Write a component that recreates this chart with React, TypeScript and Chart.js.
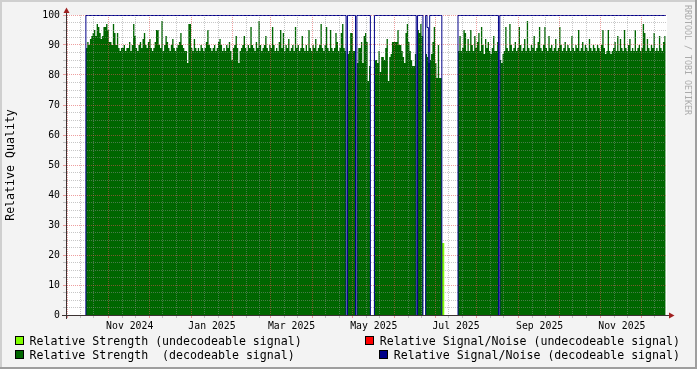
import React, { useEffect, useRef } from "react";
import { Chart, registerables } from "chart.js";

Chart.register(...registerables);

// ---------------- data ----------------
const axisStart = "2024-10-01";
const axisDays = 445; // axis runs to 2025-12-20

const xLabelMonths = ["2024-11", "2025-01", "2025-03", "2025-05", "2025-07", "2025-09", "2025-11"];
const xLabels = ["Nov 2024", "Jan 2025", "Mar 2025", "May 2025", "Jul 2025", "Sep 2025", "Nov 2025"];
const yLabels = [0, 10, 20, 30, 40, 50, 60, 70, 80, 90, 100];
const yMinorStep = 2.5;

// first day of each uninterrupted run of decodeable data
const segmentStarts = ["2024-10-15", "2025-04-27", "2025-05-04", "2025-05-17", "2025-06-18", "2025-06-24", "2025-07-18", "2025-08-18"];

// Relative Strength (decodeable signal), one value per day
const strengthA = [
  89, 91, 90, 92, 93, 94, 95, 93, 97, 96,
  94, 92, 93, 96, 96, 97, 95, 91, 91, 90,
  97, 94,
  90, 94, 89, 88, 89, 89, 90, 88, 89, 89,
  91, 88, 90, 97, 93, 89, 88, 90, 91, 89,
  92, 94, 90, 89, 91, 92, 89, 88, 89, 91,
  95, 95, 90, 89, 98, 88, 90, 93, 91, 89,
  88, 90, 92, 89, 88, 89, 90, 91, 94, 90,
  89, 88, 88, 84, 97, 97, 89, 88, 92, 89,
  88, 89, 88, 90, 89, 88, 89, 91, 95, 90,
  89, 88, 89, 90, 88, 89, 91, 92, 90, 88,
  89, 88, 90, 89, 91, 88, 85, 89, 90, 93,
  89, 84,
  88, 89, 90, 93, 89, 88, 90, 89, 96, 90,
  89, 88, 91, 89, 98, 90, 88, 89, 90, 93,
  89, 88, 90, 89, 96, 90, 88, 89, 88, 91,
  95, 89, 94, 88, 90, 89, 92, 88, 89, 90,
  88, 96, 89, 90, 88, 89, 93, 89, 88, 90,
  88, 95, 89, 88, 90, 89, 92, 88, 89, 90,
  97, 89, 88, 90, 96, 89, 88,
  95, 89, 88, 89, 94, 91, 88, 89, 94, 97, 89, 88,
];
const strengthB = [87, 88, 94, 94, 88, 88];
const strengthC = [84, 89, 89, 91, 84, 93, 94, 91, 78, 83];
const strengthD = [
  85, 85, 84, 88, 81, 86, 86, 85, 89, 92,
  78, 86, 87, 91, 91, 91, 91, 95, 90, 90,
  88, 86, 84, 94, 97, 91, 88, 85, 83, 83,
  87,
];
const strengthE = [95, 94, 97, 93];
const strengthF = [87, 86, 84, 85, 87, 91, 96, 84, 79, 90, 79, 79];
const strengthG = [
  88, 93, 88, 89, 95, 94, 88, 92, 88, 95,
  90, 88, 93, 89, 91, 94, 88, 96, 90, 87,
  92, 89, 91, 88, 87, 89, 93, 88, 88, 91,
];
const strengthH = [
  85, 84, 87, 88, 96, 89, 88, 97, 90, 88,
  89, 91, 88, 89, 96, 90, 88, 89, 92, 88,
  98, 89, 88, 90, 89, 93, 88, 89, 91, 96,
  89, 88, 90, 96, 89, 88, 93, 89, 90, 88,
  89, 92, 88, 89, 96, 90, 88, 89, 91, 88,
  90, 89, 88, 93, 89, 88, 90, 89, 95, 88,
  89, 91, 88, 90, 89, 88, 92, 89, 88, 90,
  89, 88, 90, 89, 88, 90, 95, 89, 87, 88,
  95, 88, 87, 88, 89, 91, 88, 93, 88, 92,
  89, 88, 95, 89, 88, 90, 92, 88, 89, 88,
  95, 88, 89, 90, 88, 89, 97, 94, 88, 92,
  89, 88, 90, 89, 94, 88, 89, 88, 93, 89,
  88, 91, 93,
];

// Relative Signal/Noise (decodeable signal), one value per day
const signalNoiseA = [
  100, 100, 100, 100, 100, 100, 100, 100, 100, 100, 100, 100, 100, 100, 100, 100, 100, 100, 100, 100,
  100, 100, 100, 100, 100, 100, 100, 100, 100, 100, 100, 100, 100, 100, 100, 100, 100, 100, 100, 100,
  100, 100, 100, 100, 100, 100, 100, 100, 100, 100, 100, 100, 100, 100, 100, 100, 100, 100, 100, 100,
  100, 100, 100, 100, 100, 100, 100, 100, 100, 100, 100, 100, 100, 100, 100, 100, 100, 100, 100, 100,
  100, 100, 100, 100, 100, 100, 100, 100, 100, 100, 100, 100, 100, 100, 100, 100, 100, 100, 100, 100,
  100, 100, 100, 100, 100, 100, 100, 100, 100, 100, 100, 100, 100, 100, 100, 100, 100, 100, 100, 100,
  100, 100, 100, 100, 100, 100, 100, 100, 100, 100, 100, 100, 100, 100, 100, 100, 100, 100, 100, 100,
  100, 100, 100, 100, 100, 100, 100, 100, 100, 100, 100, 100, 100, 100, 100, 100, 100, 100, 100, 100,
  100, 100, 100, 100, 100, 100, 100, 100, 100, 100, 100, 100, 100, 100, 100, 100, 100, 100, 100, 100,
  100, 100, 100, 100, 100, 100, 100, 100, 100, 100, 100, 100, 100,
];
const signalNoiseB = [100, 100, 100, 100, 100, 100];
const signalNoiseC = [100, 100, 100, 100, 100, 100, 100, 100, 100, 100];
const signalNoiseD = [
  100, 100, 100, 100, 100, 100, 100, 100, 100, 100, 100, 100, 100, 100, 100, 100,
  100, 100, 100, 100, 100, 100, 100, 100, 100, 100, 100, 100, 100, 100, 100,
];
const signalNoiseE = [100, 100, 100, 100];
const signalNoiseF = [100, 96, 68, 100, 100, 100, 100, 100, 100, 100, 100, 100];
const signalNoiseG = [
  100, 100, 100, 100, 100, 100, 100, 100, 100, 100, 100, 100, 100, 100, 100,
  100, 100, 100, 100, 100, 100, 100, 100, 100, 100, 100, 100, 100, 100, 100,
];
const signalNoiseH = [
  100, 100, 100, 100, 100, 100, 100, 100, 100, 100, 100, 100, 100, 100, 100, 100, 100, 100, 100, 100,
  100, 100, 100, 100, 100, 100, 100, 100, 100, 100, 100, 100, 100, 100, 100, 100, 100, 100, 100, 100,
  100, 100, 100, 100, 100, 100, 100, 100, 100, 100, 100, 100, 100, 100, 100, 100, 100, 100, 100, 100,
  100, 100, 100, 100, 100, 100, 100, 100, 100, 100, 100, 100, 100, 100, 100, 100, 100, 100, 100, 100,
  100, 100, 100, 100, 100, 100, 100, 100, 100, 100, 100, 100, 100, 100, 100, 100, 100, 100, 100, 100,
  100, 100, 100, 100, 100, 100, 100, 100, 100, 100, 100, 100, 100, 100, 100, 100, 100, 100, 100, 100,
  100, 100, 100,
];

// undecodeable signal
const undecodeableStrengthStarts = ["2025-07-06"];
const undecodeableStrength = [24, 24];
const undecodeableSignalNoiseStarts: string[] = [];
const undecodeableSignalNoise: number[] = [];

const legendLabels = [
  "Relative Strength (undecodeable signal)",
  "Relative Strength  (decodeable signal)",
  "Relative Signal/Noise (undecodeable signal)",
  "Relative Signal/Noise (decodeable signal)",
];

// ---------------- styling ----------------
const MONO = "'DejaVu Sans Mono', monospace";
const GREEN = "#006600";
const LIME = "#80ff00";
const RED = "#ff0000";
const NAVY = "#000088";
const MINOR = "rgba(143,143,143,0.5)";
const MAJOR = "rgba(222,80,80,0.55)";
const SN_INDEX = 3;

// ---------------- helpers ----------------
const DAY_MS = 86400000;
const dayIndex = (iso: string) =>
  Math.round((Date.parse(iso + "T00:00:00Z") - Date.parse(axisStart + "T00:00:00Z")) / DAY_MS);

function buildSteps(starts: string[], series: number[][]) {
  const byDay = new Map<number, number>();
  starts.forEach((s, i) => {
    const d0 = dayIndex(s);
    series[i].forEach((v, k) => byDay.set(d0 + k, v));
  });
  const pts: { x: number; y: number }[] = [];
  if (byDay.size === 0) return { pts, first: 0, last: 0 };
  const days = Array.from(byDay.keys());
  const first = Math.min(...days);
  const last = Math.max(...days);
  for (let d = first; d <= last; d++) pts.push({ x: d, y: byDay.get(d) ?? 0 });
  pts.push({ x: last + 1, y: byDay.get(last) as number });
  return { pts, first, last };
}

type XTick = { value: number; kind: "major" | "minor" | "label"; label: string };
function buildXTicks(): XTick[] {
  const list: XTick[] = [];
  const s = new Date(axisStart + "T00:00:00Z");
  for (let m = 0; m < 40; m++) {
    const dt = new Date(Date.UTC(s.getUTCFullYear(), s.getUTCMonth() + m, 1));
    const d = Math.round((dt.getTime() - s.getTime()) / DAY_MS);
    if (d > axisDays) break;
    list.push({ value: d, kind: "major", label: "" });
    [10, 20].forEach((o) => {
      if (d + o <= axisDays) list.push({ value: d + o, kind: "minor", label: "" });
    });
  }
  xLabelMonths.forEach((m, i) => {
    list.push({ value: dayIndex(m + "-01") + 15.5, kind: "label", label: xLabels[i] });
  });
  return list.sort((a, b) => a.value - b.value);
}

export default function App() {
  const ref = useRef<HTMLCanvasElement | null>(null);

  useEffect(() => {
    if (!ref.current) return;
    const strength = buildSteps(segmentStarts, [
      strengthA, strengthB, strengthC, strengthD, strengthE, strengthF, strengthG, strengthH,
    ]);
    const sn = buildSteps(segmentStarts, [
      signalNoiseA, signalNoiseB, signalNoiseC, signalNoiseD, signalNoiseE, signalNoiseF, signalNoiseG, signalNoiseH,
    ]);
    const snPts = [{ x: sn.first, y: 0 }, ...sn.pts];
    const lime = buildSteps(undecodeableStrengthStarts, [undecodeableStrength]);
    const redSn = buildSteps(undecodeableSignalNoiseStarts, [undecodeableSignalNoise]);

    const xTicks = buildXTicks();
    const xKind = new Map<number, XTick>();
    xTicks.forEach((t) => xKind.set(t.value, t));
    const yTickValues: number[] = [];
    for (let v = 0; v <= 100; v += yMinorStep) yTickValues.push(v);

    const plugin = {
      id: "rrdDecor",
      beforeDraw(chart: any) {
        const { ctx, width, height, chartArea: a } = chart;
        ctx.save();
        ctx.fillStyle = "#f3f3f3";
        ctx.fillRect(0, 0, width, height);
        ctx.fillStyle = "#cfcfcf";
        ctx.fillRect(0, 0, width, 2);
        ctx.fillRect(0, 0, 2, height);
        ctx.fillStyle = "#9e9e9e";
        ctx.fillRect(0, height - 2, width, 2);
        ctx.fillRect(width - 2, 0, 2, height);
        ctx.fillStyle = "#ffffff";
        ctx.fillRect(a.left, a.top, a.right - a.left, a.bottom - a.top);
        ctx.restore();
      },
      beforeDatasetDraw(_chart: any, args: any) {
        if (args.index === SN_INDEX) return false;
        return true;
      },
      afterDraw(chart: any) {
        const { ctx, chartArea: a } = chart;
        // signal/noise line on top of the grid
        ctx.save();
        ctx.beginPath();
        ctx.rect(a.left, a.top - 1, a.right - a.left, a.bottom - a.top + 2);
        ctx.clip();
        ctx.translate(0, 0.5);
        chart.getDatasetMeta(SN_INDEX).controller.draw();
        ctx.restore();

        // axes
        ctx.save();
        ctx.strokeStyle = "#3c3232";
        ctx.lineWidth = 1;
        ctx.beginPath();
        ctx.moveTo(66.5, 319);
        ctx.lineTo(66.5, 12);
        ctx.moveTo(62, 315.5);
        ctx.lineTo(670, 315.5);
        ctx.stroke();
        ctx.fillStyle = "#a02020";
        ctx.beginPath();
        ctx.moveTo(66.5, 7.5);
        ctx.lineTo(69.5, 13);
        ctx.lineTo(63.5, 13);
        ctx.closePath();
        ctx.fill();
        ctx.beginPath();
        ctx.moveTo(674.5, 315.5);
        ctx.lineTo(669, 312.5);
        ctx.lineTo(669, 318.5);
        ctx.closePath();
        ctx.fill();

        // y-axis title
        ctx.fillStyle = "#000";
        ctx.font = `11.6px ${MONO}`;
        ctx.textAlign = "center";
        ctx.textBaseline = "middle";
        ctx.save();
        ctx.translate(11, 165);
        ctx.rotate(-Math.PI / 2);
        ctx.fillText("Relative Quality", 0, 0);
        ctx.restore();

        // watermark
        ctx.save();
        ctx.fillStyle = "#ababab";
        ctx.font = `8.3px ${MONO}`;
        ctx.translate(687.5, 60);
        ctx.rotate(Math.PI / 2);
        ctx.fillText("RRDTOOL / TOBI OETIKER", 0, 0);
        ctx.restore();

        // legend
        const box = (x: number, y: number, c: string) => {
          ctx.fillStyle = c;
          ctx.fillRect(x, y, 9, 9);
          ctx.strokeStyle = "#000";
          ctx.lineWidth = 1;
          ctx.strokeRect(x + 0.5, y + 0.5, 8, 8);
        };
        ctx.font = `11.6px ${MONO}`;
        ctx.textBaseline = "alphabetic";
        box(15, 336, LIME);
        box(15, 350, GREEN);
        box(365, 336, RED);
        box(379, 350, NAVY);
        ctx.fillStyle = "#000";
        ctx.textAlign = "left";
        ctx.fillText(legendLabels[0], 29.5, 345);
        ctx.fillText(legendLabels[1], 29.5, 359);
        ctx.textAlign = "right";
        ctx.fillText(legendLabels[2], 680, 345);
        ctx.fillText(legendLabels[3], 680, 359);
        ctx.restore();
      },
    };

    const chart = new Chart(ref.current, {
      type: "line",
      data: {
        datasets: [
          {
            label: legendLabels[1],
            data: strength.pts,
            stepped: "before",
            fill: "origin",
            backgroundColor: GREEN,
            borderColor: "rgba(0,0,0,0)",
            borderWidth: 0,
            pointRadius: 0,
          },
          {
            label: legendLabels[0],
            data: lime.pts,
            stepped: "before",
            fill: "origin",
            backgroundColor: LIME,
            borderColor: "rgba(0,0,0,0)",
            borderWidth: 0,
            pointRadius: 0,
          },
          {
            label: legendLabels[2],
            data: redSn.pts,
            stepped: "before",
            fill: false,
            borderColor: RED,
            borderWidth: 1,
            pointRadius: 0,
          },
          {
            label: legendLabels[3],
            data: snPts,
            stepped: "before",
            fill: false,
            borderColor: NAVY,
            borderWidth: 1,
            pointRadius: 0,
          },
        ],
      } as any,
      options: {
        animation: false,
        responsive: false,
        devicePixelRatio: 1,
        events: [],
        layout: { autoPadding: false, padding: { left: 0, right: 30, top: 15, bottom: 0 } },
        plugins: { legend: { display: false }, tooltip: { enabled: false } },
        scales: {
          x: {
            type: "linear",
            min: 0,
            max: axisDays,
            afterBuildTicks: (scale: any) => {
              scale.ticks = xTicks.map((t) => ({ value: t.value }));
            },
            afterFit: (scale: any) => {
              scale.height = 54;
            },
            ticks: {
              autoSkip: false,
              maxRotation: 0,
              minRotation: 0,
              padding: 3,
              color: "#000",
              font: { family: MONO, size: 9.8 },
              callback: (v: any) => xKind.get(Number(v))?.label ?? "",
            },
            grid: {
              z: 1,
              lineWidth: 1,
              tickLength: 3,
              color: (c: any) => {
                const t = c.tick ? xKind.get(c.tick.value) : undefined;
                if (!t || t.kind === "label") return "rgba(0,0,0,0)";
                return t.kind === "major" ? MAJOR : MINOR;
              },
            },
            border: { display: false, dash: [1, 1] },
          },
          y: {
            type: "linear",
            min: 0,
            max: 100,
            afterBuildTicks: (scale: any) => {
              scale.ticks = yTickValues.map((v) => ({ value: v }));
            },
            afterFit: (scale: any) => {
              scale.width = 67;
            },
            ticks: {
              autoSkip: false,
              padding: 3,
              color: "#000",
              font: { family: MONO, size: 9.8 },
              callback: (v: any) => (yLabels.includes(Number(v)) ? String(v) : ""),
            },
            grid: {
              z: 1,
              lineWidth: 1,
              tickLength: 4,
              color: (c: any) => {
                const v = c.tick ? c.tick.value : -1;
                if (v <= 0) return "rgba(0,0,0,0)";
                return yLabels.includes(v) ? MAJOR : MINOR;
              },
            },
            border: { display: false, dash: [1, 1] },
          },
        },
      } as any,
      plugins: [plugin],
    });
    return () => chart.destroy();
  }, []);

  return (
    <div style={{ position: "fixed", left: 0, top: 0, width: 697, height: 369 }}>
      <canvas ref={ref} width={697} height={369} style={{ width: 697, height: 369, display: "block" }} />
    </div>
  );
}
